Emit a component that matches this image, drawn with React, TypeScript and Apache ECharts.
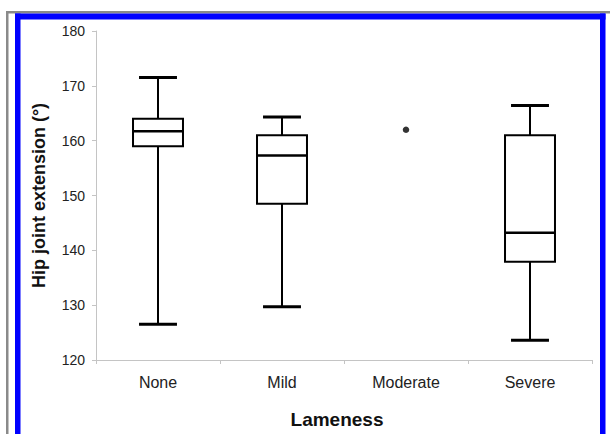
import React, { useEffect, useRef } from "react";
import * as echarts from "echarts";

const categories = ["None", "Mild", "Moderate", "Severe"];
const whiskerLow = [126.5, 129.7, null, 123.6];
const q1 = [159.0, 148.5, null, 137.9];
const median = [161.7, 157.3, null, 143.2];
const q3 = [164.0, 161.0, null, 161.0];
const whiskerHigh = [171.5, 164.3, null, 166.4];
const singlePoints = [{ category: "Moderate", value: 162.0 }];
const yTicks = { min: 120, max: 180, interval: 10 };

const FONT = '"Liberation Sans", Arial, Helvetica, sans-serif';

export default function App() {
  const ref = useRef<HTMLDivElement>(null);
  useEffect(() => {
    if (!ref.current) return;
    const chart = echarts.init(ref.current, null, { renderer: "svg" });
    const boxData = categories
      .map((c, i) => [i, whiskerLow[i], q1[i], median[i], q3[i], whiskerHigh[i]])
      .filter((d) => d[1] != null);
    const pointData = singlePoints.map((p) => [categories.indexOf(p.category), p.value]);

    chart.setOption({
      animation: false,
      backgroundColor: "#ffffff",
      grid: { left: 96, right: 18, top: 31, bottom: 74, containLabel: false },
      graphic: [
        { type: "rect", shape: { x: 6, y: 11, width: 604, height: 2.5 }, style: { fill: "#8a8a8a" }, silent: true },
        { type: "rect", shape: { x: 6, y: 11, width: 2.5, height: 423 }, style: { fill: "#8a8a8a" }, silent: true },
        { type: "rect", shape: { x: 15, y: 13.5, width: 590.5, height: 6 }, style: { fill: "#0000ff" }, silent: true },
        { type: "rect", shape: { x: 15, y: 13.5, width: 5.5, height: 421 }, style: { fill: "#0000ff" }, silent: true },
        { type: "rect", shape: { x: 600, y: 13.5, width: 5.5, height: 421 }, style: { fill: "#0000ff" }, silent: true },
      ],
      xAxis: {
        type: "category",
        data: categories,
        boundaryGap: true,
        name: "Lameness",
        nameLocation: "middle",
        nameGap: 50,
        nameTextStyle: { fontFamily: FONT, fontSize: 19, fontWeight: "bold", color: "#111", padding: [0, 14, 0, 0] },
        axisLine: { lineStyle: { color: "#c4c4c4", width: 1 } },
        axisTick: { show: true, length: 4, lineStyle: { color: "#c4c4c4" } },
        axisLabel: { fontFamily: FONT, fontSize: 16, color: "#222", margin: 14 },
        splitLine: { show: false },
      },
      yAxis: {
        type: "value",
        min: yTicks.min,
        max: yTicks.max,
        interval: yTicks.interval,
        name: "Hip joint extension (°)",
        nameLocation: "middle",
        nameGap: 48,
        nameTextStyle: { fontFamily: FONT, fontSize: 18, fontWeight: "bold", color: "#111" },
        axisLine: { show: true, lineStyle: { color: "#c4c4c4", width: 1 } },
        axisTick: { show: true, length: 4, lineStyle: { color: "#c4c4c4" } },
        axisLabel: { fontFamily: FONT, fontSize: 14, color: "#222", margin: 11 },
        splitLine: { show: false },
      },
      series: [
        {
          type: "custom",
          data: boxData,
          encode: { x: 0, y: [1, 2, 3, 4, 5] },
          renderItem: (params: any, api: any) => {
            const xi = api.value(0);
            const band = api.size([1, 0])[0];
            const bw = band * 0.403;
            const cw = band * 0.306;
            const pLo = api.coord([xi, api.value(1)]);
            const pQ1 = api.coord([xi, api.value(2)]);
            const pMed = api.coord([xi, api.value(3)]);
            const pQ3 = api.coord([xi, api.value(4)]);
            const pHi = api.coord([xi, api.value(5)]);
            const cx = pLo[0];
            const stroke = "#000";
            return {
              type: "group",
              children: [
                { type: "line", shape: { x1: cx, y1: pLo[1], x2: cx, y2: pQ1[1] }, style: { stroke, lineWidth: 2 } },
                { type: "line", shape: { x1: cx, y1: pQ3[1], x2: cx, y2: pHi[1] }, style: { stroke, lineWidth: 2 } },
                { type: "line", shape: { x1: cx - cw / 2, y1: pLo[1], x2: cx + cw / 2, y2: pLo[1] }, style: { stroke, lineWidth: 3 } },
                { type: "line", shape: { x1: cx - cw / 2, y1: pHi[1], x2: cx + cw / 2, y2: pHi[1] }, style: { stroke, lineWidth: 3 } },
                {
                  type: "rect",
                  shape: { x: cx - bw / 2, y: pQ3[1], width: bw, height: pQ1[1] - pQ3[1] },
                  style: { fill: "#fff", stroke, lineWidth: 2 },
                },
                { type: "line", shape: { x1: cx - bw / 2, y1: pMed[1], x2: cx + bw / 2, y2: pMed[1] }, style: { stroke, lineWidth: 2.5 } },
              ],
            };
          },
        },
        {
          type: "scatter",
          data: pointData,
          symbol: "circle",
          symbolSize: 6.5,
          itemStyle: { color: "#000" },
        },
      ],
    });
    return () => chart.dispose();
  }, []);
  return (
    <div
      ref={ref}
      style={{ position: "fixed", left: 0, top: 0, width: 610, height: 434, background: "#fff" }}
    />
  );
}
